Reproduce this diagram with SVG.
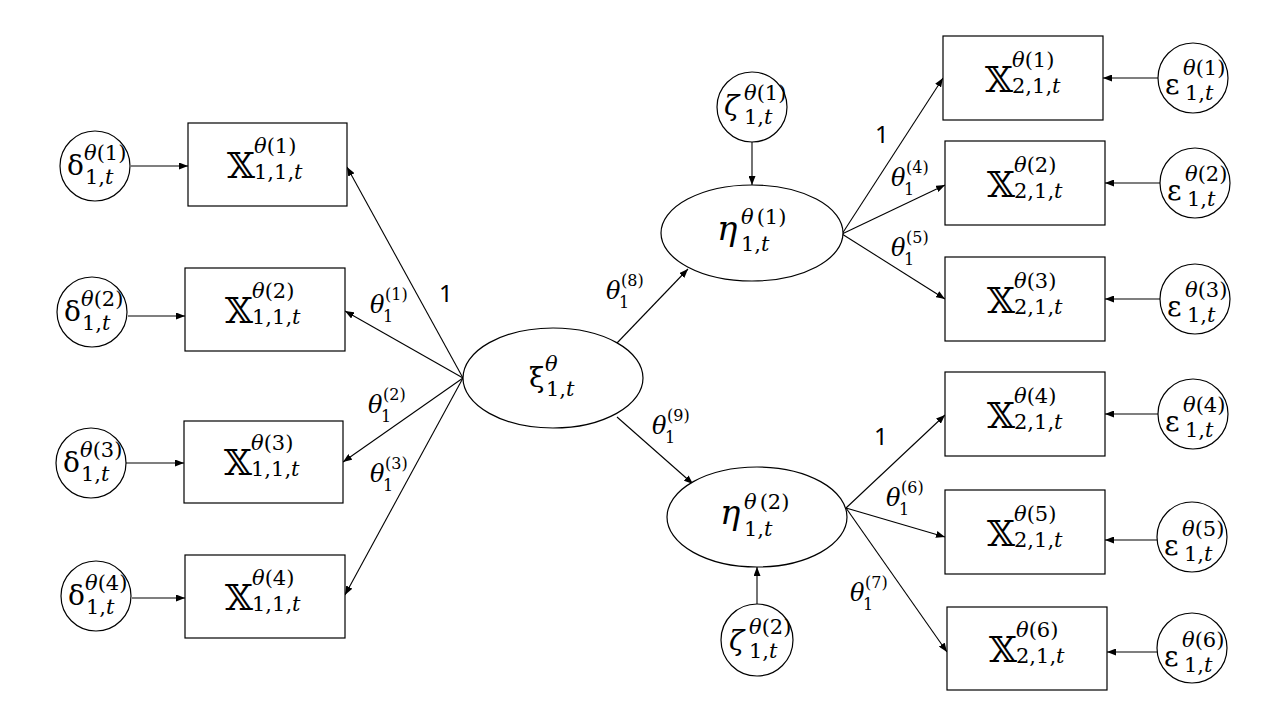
<svg xmlns="http://www.w3.org/2000/svg" width="1280" height="720" viewBox="0 0 1280 720">
<style>
.n{fill:#fff;stroke:#000;stroke-width:1.2}
.c{stroke:#000;stroke-width:1.1;fill:none;marker-end:url(#a)}
text{font-family:"DejaVu Serif","Liberation Serif",serif;fill:#000}
.X{font-size:36px}
.g{font-size:28px}
.h{font-size:34px;font-style:italic}
.s{font-size:21px}
.i{font-style:italic}
.lt{font-size:24px;font-style:italic}
.ls{font-size:16px}
.one{font-family:"Noto Sans","DejaVu Sans",sans-serif;font-size:24px}
</style>
<defs>
<marker id="a" markerUnits="userSpaceOnUse" markerWidth="9" markerHeight="7" refX="9" refY="3.5" orient="auto"><path d="M0,0 L9,3.5 L0,7 z" fill="#000"/></marker>
</defs>
<rect width="1280" height="720" fill="#fff"/>
<g id="connectors">
<line class="c" x1="131" y1="166" x2="188" y2="166"/>
<line class="c" x1="128" y1="316" x2="185" y2="316"/>
<line class="c" x1="126" y1="463" x2="184" y2="463"/>
<line class="c" x1="132" y1="598" x2="185" y2="598"/>
<line class="c" x1="463" y1="378" x2="347" y2="167"/>
<line class="c" x1="463" y1="378" x2="345" y2="311"/>
<line class="c" x1="463" y1="378" x2="343" y2="462"/>
<line class="c" x1="463" y1="378" x2="345" y2="595"/>
<line class="c" x1="617" y1="343" x2="688" y2="269"/>
<line class="c" x1="617" y1="417" x2="693" y2="484"/>
<line class="c" x1="752" y1="142" x2="752" y2="185"/>
<line class="c" x1="757" y1="604" x2="757" y2="567"/>
<line class="c" x1="842" y1="234" x2="943" y2="78"/>
<line class="c" x1="842" y1="234" x2="945" y2="185"/>
<line class="c" x1="842" y1="234" x2="945" y2="299"/>
<line class="c" x1="846" y1="508" x2="945" y2="415"/>
<line class="c" x1="846" y1="508" x2="945" y2="537"/>
<line class="c" x1="846" y1="508" x2="947" y2="652"/>
<line class="c" x1="1158" y1="78" x2="1103" y2="78"/>
<line class="c" x1="1160" y1="183" x2="1105" y2="183"/>
<line class="c" x1="1160" y1="299" x2="1105" y2="299"/>
<line class="c" x1="1158" y1="414" x2="1105" y2="414"/>
<line class="c" x1="1157" y1="540" x2="1105" y2="540"/>
<line class="c" x1="1157" y1="652" x2="1107" y2="652"/>
</g>
<g id="edge-labels">
<text class="one" x="439" y="302">1</text>
<text><tspan class="lt" x="370" y="313">θ</tspan><tspan class="ls" x="383" y="322">1</tspan><tspan class="ls" x="385" y="300">(1)</tspan></text>
<text><tspan class="lt" x="368" y="413">θ</tspan><tspan class="ls" x="381" y="422">1</tspan><tspan class="ls" x="383" y="400">(2)</tspan></text>
<text><tspan class="lt" x="370" y="482">θ</tspan><tspan class="ls" x="383" y="491">1</tspan><tspan class="ls" x="385" y="469">(3)</tspan></text>
<text><tspan class="lt" x="606" y="299">θ</tspan><tspan class="ls" x="619" y="308">1</tspan><tspan class="ls" x="621" y="286">(8)</tspan></text>
<text><tspan class="lt" x="652" y="434">θ</tspan><tspan class="ls" x="665" y="443">1</tspan><tspan class="ls" x="667" y="421">(9)</tspan></text>
<text class="one" x="875" y="143">1</text>
<text><tspan class="lt" x="891" y="186">θ</tspan><tspan class="ls" x="904" y="195">1</tspan><tspan class="ls" x="906" y="173">(4)</tspan></text>
<text><tspan class="lt" x="891" y="256">θ</tspan><tspan class="ls" x="904" y="265">1</tspan><tspan class="ls" x="906" y="243">(5)</tspan></text>
<text class="one" x="874" y="445">1</text>
<text><tspan class="lt" x="886" y="506">θ</tspan><tspan class="ls" x="899" y="515">1</tspan><tspan class="ls" x="901" y="493">(6)</tspan></text>
<text><tspan class="lt" x="850" y="601">θ</tspan><tspan class="ls" x="863" y="610">1</tspan><tspan class="ls" x="865" y="588">(7)</tspan></text>
</g>
<g id="d1"><circle class="n" cx="95" cy="166" r="35"/><text><tspan class="g" x="67" y="175">δ</tspan><tspan class="s i" x="84" y="160">θ</tspan><tspan class="s">(1)</tspan><tspan class="s" x="85" y="184">1,</tspan><tspan class="s i">t</tspan></text></g>
<g id="d2"><circle class="n" cx="92" cy="312" r="35"/><text><tspan class="g" x="64" y="321">δ</tspan><tspan class="s i" x="81" y="306">θ</tspan><tspan class="s">(2)</tspan><tspan class="s" x="82" y="330">1,</tspan><tspan class="s i">t</tspan></text></g>
<g id="d3"><circle class="n" cx="91" cy="463" r="35"/><text><tspan class="g" x="63" y="472">δ</tspan><tspan class="s i" x="80" y="457">θ</tspan><tspan class="s">(3)</tspan><tspan class="s" x="81" y="481">1,</tspan><tspan class="s i">t</tspan></text></g>
<g id="d4"><circle class="n" cx="96" cy="596" r="35"/><text><tspan class="g" x="68" y="605">δ</tspan><tspan class="s i" x="85" y="590">θ</tspan><tspan class="s">(4)</tspan><tspan class="s" x="86" y="614">1,</tspan><tspan class="s i">t</tspan></text></g>
<g id="x11"><rect class="n" x="188" y="123" width="159" height="83"/><text><tspan class="X" x="227" y="178">𝕏</tspan><tspan class="s i" x="254" y="153">θ</tspan><tspan class="s">(1)</tspan><tspan class="s" x="254" y="179">1,1,</tspan><tspan class="s i">t</tspan></text></g>
<g id="x12"><rect class="n" x="185" y="268" width="160" height="83"/><text><tspan class="X" x="225" y="323">𝕏</tspan><tspan class="s i" x="252" y="298">θ</tspan><tspan class="s">(2)</tspan><tspan class="s" x="252" y="324">1,1,</tspan><tspan class="s i">t</tspan></text></g>
<g id="x13"><rect class="n" x="184" y="421" width="159" height="82"/><text><tspan class="X" x="224" y="475">𝕏</tspan><tspan class="s i" x="251" y="450">θ</tspan><tspan class="s">(3)</tspan><tspan class="s" x="251" y="476">1,1,</tspan><tspan class="s i">t</tspan></text></g>
<g id="x14"><rect class="n" x="185" y="555" width="160" height="83"/><text><tspan class="X" x="225" y="610">𝕏</tspan><tspan class="s i" x="252" y="585">θ</tspan><tspan class="s">(4)</tspan><tspan class="s" x="252" y="611">1,1,</tspan><tspan class="s i">t</tspan></text></g>
<g id="xi"><ellipse class="n" cx="553" cy="378" rx="90" ry="50"/><text><tspan class="g" x="529" y="387">ξ</tspan><tspan class="s i" x="545" y="371">θ</tspan><tspan class="s" x="546" y="396">1,</tspan><tspan class="s i">t</tspan></text></g>
<g id="z1"><circle class="n" cx="752" cy="107" r="35"/><text><tspan class="g i" x="724" y="115">ζ</tspan><tspan class="s i" x="744" y="100">θ</tspan><tspan class="s">(1)</tspan><tspan class="s" x="744" y="124">1,</tspan><tspan class="s i">t</tspan></text></g>
<g id="eta1"><ellipse class="n" cx="752" cy="233" rx="91" ry="48"/><text><tspan class="h" x="717" y="240">η</tspan><tspan class="s i" x="741" y="224">θ</tspan><tspan class="s" dx="3">(1)</tspan><tspan class="s" x="741" y="251">1,</tspan><tspan class="s i">t</tspan></text></g>
<g id="eta2"><ellipse class="n" cx="757" cy="517" rx="90" ry="50"/><text><tspan class="h" x="720" y="524">η</tspan><tspan class="s i" x="744" y="509">θ</tspan><tspan class="s" dx="3">(2)</tspan><tspan class="s" x="744" y="536">1,</tspan><tspan class="s i">t</tspan></text></g>
<g id="z2"><circle class="n" cx="757" cy="640" r="36"/><text><tspan class="g i" x="729" y="650">ζ</tspan><tspan class="s i" x="749" y="634">θ</tspan><tspan class="s">(2)</tspan><tspan class="s" x="749" y="658">1,</tspan><tspan class="s i">t</tspan></text></g>
<g id="x21"><rect class="n" x="943" y="36" width="160" height="84"/><text><tspan class="X" x="985" y="92">𝕏</tspan><tspan class="s i" x="1012" y="67">θ</tspan><tspan class="s">(1)</tspan><tspan class="s" x="1012" y="93">2,1,</tspan><tspan class="s i">t</tspan></text></g>
<g id="x22"><rect class="n" x="945" y="141" width="160" height="84"/><text><tspan class="X" x="987" y="197">𝕏</tspan><tspan class="s i" x="1014" y="172">θ</tspan><tspan class="s">(2)</tspan><tspan class="s" x="1014" y="198">2,1,</tspan><tspan class="s i">t</tspan></text></g>
<g id="x23"><rect class="n" x="945" y="257" width="160" height="84"/><text><tspan class="X" x="987" y="313">𝕏</tspan><tspan class="s i" x="1014" y="288">θ</tspan><tspan class="s">(3)</tspan><tspan class="s" x="1014" y="314">2,1,</tspan><tspan class="s i">t</tspan></text></g>
<g id="x24"><rect class="n" x="945" y="372" width="160" height="84"/><text><tspan class="X" x="987" y="428">𝕏</tspan><tspan class="s i" x="1014" y="403">θ</tspan><tspan class="s">(4)</tspan><tspan class="s" x="1014" y="429">2,1,</tspan><tspan class="s i">t</tspan></text></g>
<g id="x25"><rect class="n" x="945" y="490" width="160" height="84"/><text><tspan class="X" x="987" y="546">𝕏</tspan><tspan class="s i" x="1014" y="521">θ</tspan><tspan class="s">(5)</tspan><tspan class="s" x="1014" y="547">2,1,</tspan><tspan class="s i">t</tspan></text></g>
<g id="x26"><rect class="n" x="947" y="607" width="160" height="83"/><text><tspan class="X" x="989" y="662">𝕏</tspan><tspan class="s i" x="1016" y="637">θ</tspan><tspan class="s">(6)</tspan><tspan class="s" x="1016" y="663">2,1,</tspan><tspan class="s i">t</tspan></text></g>
<g id="e1"><circle class="n" cx="1193" cy="78" r="35"/><text><tspan class="g" x="1165" y="94">ε</tspan><tspan class="s i" x="1183" y="75">θ</tspan><tspan class="s">(1)</tspan><tspan class="s" x="1185" y="100">1,</tspan><tspan class="s i">t</tspan></text></g>
<g id="e2"><circle class="n" cx="1195" cy="183" r="35"/><text><tspan class="g" x="1167" y="200">ε</tspan><tspan class="s i" x="1185" y="181">θ</tspan><tspan class="s">(2)</tspan><tspan class="s" x="1187" y="206">1,</tspan><tspan class="s i">t</tspan></text></g>
<g id="e3"><circle class="n" cx="1195" cy="299" r="35"/><text><tspan class="g" x="1167" y="316">ε</tspan><tspan class="s i" x="1185" y="297">θ</tspan><tspan class="s">(3)</tspan><tspan class="s" x="1187" y="322">1,</tspan><tspan class="s i">t</tspan></text></g>
<g id="e4"><circle class="n" cx="1193" cy="414" r="35"/><text><tspan class="g" x="1165" y="431">ε</tspan><tspan class="s i" x="1183" y="412">θ</tspan><tspan class="s">(4)</tspan><tspan class="s" x="1185" y="437">1,</tspan><tspan class="s i">t</tspan></text></g>
<g id="e5"><circle class="n" cx="1192" cy="537" r="35"/><text><tspan class="g" x="1164" y="555">ε</tspan><tspan class="s i" x="1182" y="536">θ</tspan><tspan class="s">(5)</tspan><tspan class="s" x="1184" y="561">1,</tspan><tspan class="s i">t</tspan></text></g>
<g id="e6"><circle class="n" cx="1192" cy="648" r="35"/><text><tspan class="g" x="1164" y="666">ε</tspan><tspan class="s i" x="1182" y="647">θ</tspan><tspan class="s">(6)</tspan><tspan class="s" x="1184" y="672">1,</tspan><tspan class="s i">t</tspan></text></g>
</svg>
